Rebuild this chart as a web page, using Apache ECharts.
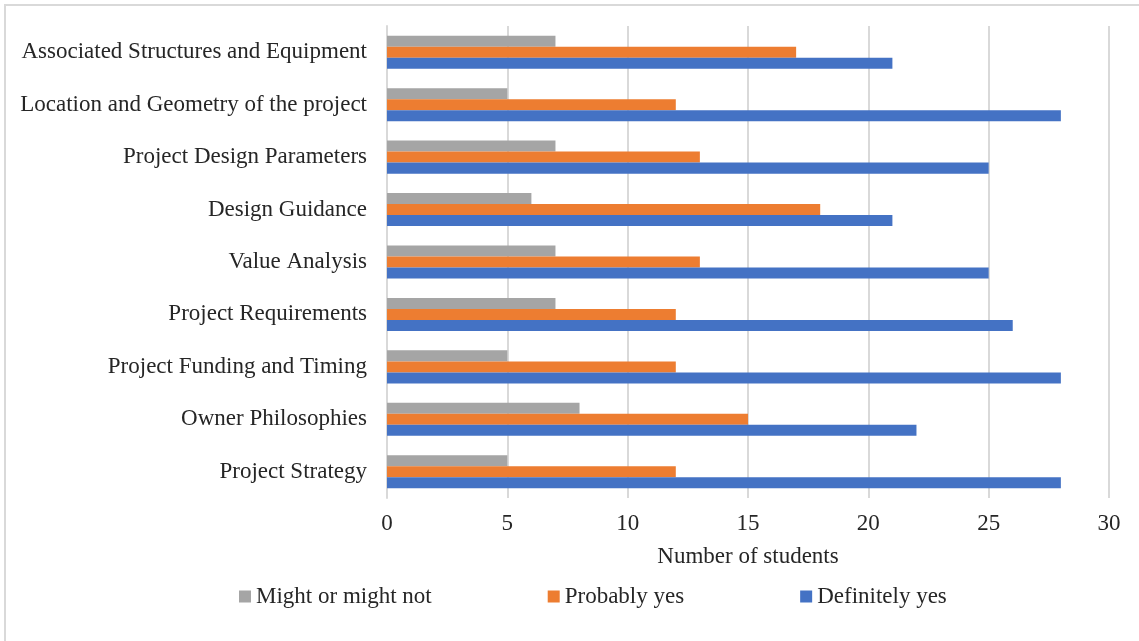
<!DOCTYPE html>
<html>
<head>
    <meta charset="utf-8">
    <title></title>
    <script src="https://cdn.jsdelivr.net/npm/echarts@6/dist/echarts.min.js"></script>
    <style>
        html, body { margin: 0; padding: 0; background: #fff; }
        #main { width: 1139px; height: 641px; }
    </style>
</head>
<body>
<div id="main"></div>
<script type="text/javascript">
    // categories listed bottom to top
    var categories = [
        'Project Strategy',
        'Owner Philosophies',
        'Project Funding and Timing',
        'Project Requirements',
        'Value Analysis',
        'Design Guidance',
        'Project Design Parameters',
        'Location and Geometry of the project',
        'Associated Structures and Equipment'
    ];
    var mightOrMightNot = [5, 8, 5, 7, 7, 6, 7, 5, 7];
    var probablyYes = [12, 15, 12, 12, 13, 18, 13, 12, 17];
    var definitelyYes = [28, 22, 28, 26, 25, 21, 25, 28, 21];
    var xTicks = [0, 5, 10, 15, 20, 25, 30];

    var font = 'Liberation Serif, Times New Roman, serif';
    var chart = echarts.init(document.getElementById('main'));
    var option = {
        backgroundColor: '#fff',
        textStyle: { fontFamily: font },
        graphic: [{
            type: 'rect',
            shape: { x: 5, y: 5, width: 1160, height: 660 },
            style: { fill: 'none', stroke: '#d9d9d9', lineWidth: 2 },
            silent: true
        }],
        grid: { left: 387, right: 30, top: 26, bottom: 143 },
        legend: {
            data: ['Might or might not', 'Probably yes', 'Definitely yes'],
            left: 234,
            top: 580,
            itemWidth: 12,
            itemHeight: 12,
            itemGap: 116,
            icon: 'rect',
            textStyle: { fontFamily: font, fontSize: 23, color: '#262626' }
        },
        xAxis: {
            type: 'value',
            min: xTicks[0],
            max: xTicks[xTicks.length - 1],
            interval: 5,
            name: 'Number of students',
            nameLocation: 'middle',
            nameGap: 47,
            nameTextStyle: { fontFamily: font, fontSize: 23, color: '#262626' },
            axisLine: { show: false },
            axisTick: { show: false },
            axisLabel: { fontFamily: font, fontSize: 23, color: '#262626', margin: 14 },
            splitLine: { lineStyle: { color: '#d9d9d9', width: 2 } }
        },
        yAxis: {
            type: 'category',
            data: categories,
            axisLine: { show: true, lineStyle: { color: '#d9d9d9', width: 2 } },
            axisTick: { show: false },
            axisLabel: { fontFamily: font, fontSize: 23, color: '#262626', margin: 20 }
        },
        series: [
            {
                name: 'Might or might not',
                type: 'bar',
                data: mightOrMightNot,
                color: '#A5A5A5',
                barGap: '0%',
                barCategoryGap: '37%'
            },
            {
                name: 'Probably yes',
                type: 'bar',
                data: probablyYes,
                color: '#ED7D31',
                barGap: '0%',
                barCategoryGap: '37%'
            },
            {
                name: 'Definitely yes',
                type: 'bar',
                data: definitelyYes,
                color: '#4472C4',
                barGap: '0%',
                barCategoryGap: '37%'
            }
        ]
    };
    chart.setOption(option);
    window.onresize = function () {
        chart.resize();
    };
</script>
</body>
</html>
